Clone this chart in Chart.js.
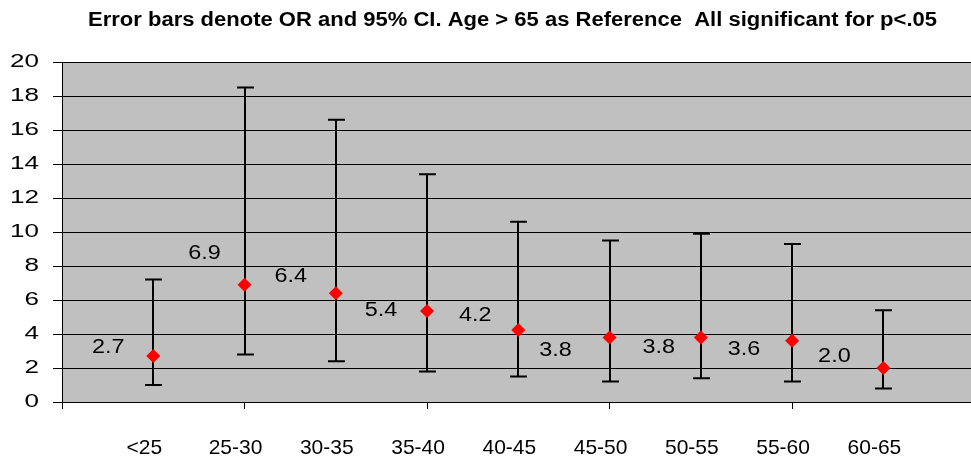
<!DOCTYPE html>
<html>
<head>
<meta charset="utf-8">
<script src="https://cdn.jsdelivr.net/npm/chart.js@4/dist/chart.umd.min.js"></script>
<style>
  html, body { margin: 0; padding: 0; background: #fff; overflow: hidden; }
  #wrap { width: 971px; height: 457px; }
  canvas { display: block; }
</style>
</head>
<body>
<div id="wrap"><canvas id="myChart"></canvas></div>
<script>
// data
const ageGroups = ['<25', '25-30', '30-35', '35-40', '40-45', '45-50', '50-55', '55-60', '60-65'];
const oddsRatio = [2.7, 6.9, 6.4, 5.36, 4.24, 3.8, 3.8, 3.6, 2.0];
const ciLow = [1.0, 2.8, 2.4, 1.8, 1.5, 1.2, 1.4, 1.2, 0.8];
const ciHigh = [7.2, 18.5, 16.6, 13.4, 10.6, 9.5, 9.9, 9.3, 5.4];
const yTicks = [0, 2, 4, 6, 8, 10, 12, 14, 16, 18, 20];
const titleText = 'Error bars denote OR and 95% CI. Age > 65 as Reference  All significant for p<.05';

// where each value label sits relative to its marker (px)
const labelShift = [[-45, -8], [-40, -31], [-45, -17], [-46, 0], [-43, -14], [-54, 13], [-42, 10], [-48, 9], [-49, -11]];

const FONT = 'Liberation Sans, Arial, sans-serif';
const X_MAX = 9.96; // plot is cut just before the last tick at the right edge

// the original picture was stretched sideways, so some text is drawn wider
function wideText(ctx, text, x, y, sx) {
  ctx.save();
  ctx.translate(x, y);
  ctx.scale(sx, 1);
  ctx.fillText(text, 0, 0);
  ctx.restore();
}

function noPad(axis) {
  axis.paddingLeft = 0;
  axis.paddingRight = 0;
  axis.paddingTop = 0;
  axis.paddingBottom = 0;
}

const plotBg = {
  id: 'plotBg',
  beforeDraw(chart) {
    const a = chart.chartArea, ctx = chart.ctx;
    ctx.save();
    ctx.fillStyle = '#c0c0c0';
    ctx.fillRect(a.left, a.top, a.right - a.left, a.bottom - a.top);
    ctx.restore();
  }
};

const errorBars = {
  id: 'errorBars',
  beforeDatasetsDraw(chart) {
    const ctx = chart.ctx, xs = chart.scales.x, ys = chart.scales.y;
    ctx.save();
    ctx.strokeStyle = '#000';
    ctx.lineWidth = 2;
    ageGroups.forEach((g, i) => {
      const px = Math.round(xs.getPixelForValue(i + 1));
      const top = ys.getPixelForValue(ciHigh[i]);
      const bot = ys.getPixelForValue(ciLow[i]);
      ctx.beginPath();
      ctx.moveTo(px, top); ctx.lineTo(px, bot);
      ctx.moveTo(px - 8, top); ctx.lineTo(px + 9, top);
      ctx.moveTo(px - 8, bot); ctx.lineTo(px + 9, bot);
      ctx.stroke();
    });
    ctx.restore();
  }
};

const texts = {
  id: 'texts',
  afterDatasetsDraw(chart) {
    const ctx = chart.ctx, xs = chart.scales.x, ys = chart.scales.y;
    ctx.save();
    ctx.fillStyle = '#000';

    // value labels
    ctx.font = '19.5px ' + FONT;
    ctx.textAlign = 'center';
    ctx.textBaseline = 'middle';
    oddsRatio.forEach((v, i) => {
      const px = xs.getPixelForValue(i + 1) + labelShift[i][0];
      const py = ys.getPixelForValue(v) + labelShift[i][1];
      wideText(ctx, (Math.round(v * 10) / 10).toFixed(1), px, py, 1.2);
    });

    // y tick labels
    ctx.font = '18.6px ' + FONT;
    ctx.textAlign = 'right';
    ys.ticks.forEach(t => {
      wideText(ctx, String(t.value), 39, ys.getPixelForValue(t.value), 1.4);
    });

    // title
    ctx.font = 'bold 19.5px ' + FONT;
    ctx.textAlign = 'center';
    ctx.textBaseline = 'alphabetic';
    const w = ctx.measureText(titleText).width;
    wideText(ctx, titleText, 512.5, 26, 849 / w);
    ctx.restore();
  }
};

const ctx = document.getElementById('myChart');
new Chart(ctx, {
  type: 'scatter',
  data: {
    datasets: [{
      label: 'OR',
      data: oddsRatio.map((v, i) => ({ x: i + 1, y: v })),
      pointStyle: 'rectRot',
      pointRadius: 7,
      pointHoverRadius: 7,
      pointBackgroundColor: '#ff0000',
      pointBorderWidth: 0,
      showLine: false
    }]
  },
  options: {
    responsive: true,
    maintainAspectRatio: false,
    animation: false,
    events: [],
    layout: { autoPadding: false, padding: { top: 62, right: 0, left: 0, bottom: 0 } },
    plugins: {
      legend: { display: false },
      tooltip: { enabled: false },
      title: { display: false }
    },
    scales: {
      x: {
        type: 'linear',
        position: 'bottom',
        min: 0,
        max: X_MAX,
        afterBuildTicks(axis) { axis.ticks = [0, 2, 4, 6, 8].map(v => ({ value: v })); },
        ticks: { display: false },
        grid: { drawOnChartArea: false, color: '#000', tickLength: 7, lineWidth: 1 },
        border: { color: '#000', width: 1 },
        afterFit(axis) { axis.height = 7; noPad(axis); }
      },
      x2: {
        type: 'linear',
        position: 'bottom',
        min: 0,
        max: X_MAX,
        afterBuildTicks(axis) { axis.ticks = ageGroups.map((g, i) => ({ value: i + 1 })); },
        ticks: {
          autoSkip: false,
          maxRotation: 0,
          padding: 27,
          labelOffset: -9,
          color: '#000',
          font: { family: FONT, size: 21 },
          callback: (v) => ageGroups[v - 1]
        },
        grid: { display: false, drawTicks: false },
        border: { display: false },
        afterFit(axis) { axis.height = 48; noPad(axis); }
      },
      y: {
        min: 0,
        max: 20,
        afterBuildTicks(axis) { axis.ticks = yTicks.map(v => ({ value: v })); },
        ticks: { display: false },
        grid: { color: '#000', lineWidth: 1, tickLength: 9 },
        border: { color: '#000', width: 1 },
        afterFit(axis) { axis.width = 62; noPad(axis); }
      }
    }
  },
  plugins: [plotBg, errorBars, texts]
});
</script>
</body>
</html>
